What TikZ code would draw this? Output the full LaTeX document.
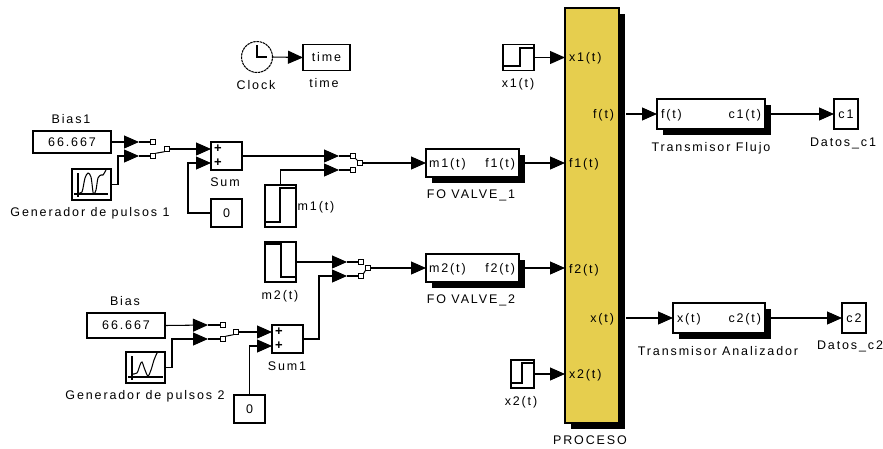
\documentclass[tikz,border=0pt]{standalone}
\usepackage{fontspec}
\setmainfont[LetterSpace=15]{Liberation Sans}
\usetikzlibrary{arrows.meta,shadows}
\definecolor{procyellow}{HTML}{E6CE4E}
\tikzset{
  blk/.style={draw=black,line width=1.05pt,fill=white,inner sep=0pt,outer sep=0pt},
  sblk/.style={blk,drop shadow={shadow xshift=6pt,shadow yshift=-6pt,fill=black,opacity=1}},
  wire/.style={line width=1.05pt,black},
  arr/.style={wire,-{Triangle[length=15pt,width=13pt]}},
  port/.style={draw=black,line width=1.05pt,fill=white,minimum size=5.5pt,inner sep=0pt,outer sep=0pt},
  bfont/.style={font=\fontsize{12.5}{14}\selectfont},
  lbl/.style={bfont,inner sep=0pt,outer sep=0pt,anchor=base,yshift=-4.5pt},
  lblw/.style={lbl,anchor=base west},
  lble/.style={lbl,anchor=base east},
  plus/.style={inner sep=0pt,outer sep=0pt,font=\fontsize{13}{13}\selectfont\bfseries},
  glyph/.style={line width=1.05pt,black},
}
\begin{document}
\begin{tikzpicture}[x=1pt,y=-1pt]
\useasboundingbox (0,0) rectangle (883,448);
% blocks
\node[blk,bfont,minimum width=78pt,minimum height=22pt] (bias1box) at (72,142) {66.667};
\node[blk,minimum width=39pt,minimum height=31pt] (gen1) at (91.5,184.5) {};
\node[blk,minimum width=31pt,minimum height=28pt] (sum) at (226.5,156) {};
\node[blk,bfont,minimum width=31pt,minimum height=28pt] (zero1) at (226.5,213) {0};
\node[blk,minimum width=31pt,minimum height=42pt] (m1) at (280.5,206) {};
\node[blk,minimum width=31pt,minimum height=40pt] (m2) at (280.5,262) {};
\node[blk,bfont,minimum width=78pt,minimum height=25pt] (biasbox) at (126,325.5) {66.667};
\node[blk,minimum width=39pt,minimum height=31pt] (gen2) at (145.5,367.5) {};
\node[blk,minimum width=31pt,minimum height=28pt] (sumb) at (287.5,339) {};
\node[blk,bfont,minimum width=31pt,minimum height=28pt] (zero2) at (249.5,409) {0};
\node[blk,circle,dash pattern=on 2.5pt off 0.7pt,minimum size=31pt] (clock) at (257,57) {};
\node[blk,bfont,minimum width=47pt,minimum height=26pt] (timebox) at (326.5,57.5) {time};
\node[blk,minimum width=31pt,minimum height=26pt] (xa) at (518.5,57.5) {};
\node[blk,minimum width=23pt,minimum height=28pt] (xb) at (522.5,374) {};
\node[sblk,minimum width=93pt,minimum height=28pt] (valve1) at (472.5,163) {};
\node[sblk,minimum width=93pt,minimum height=28pt] (valve2) at (472.5,268) {};
\node[sblk,fill=procyellow,minimum width=54pt,minimum height=415pt] (proc) at (592,215.5) {};
\node[sblk,minimum width=108pt,minimum height=30pt] (tf) at (711,114) {};
\node[sblk,minimum width=92pt,minimum height=30pt] (ta) at (719,318) {};
\node[blk,bfont,minimum width=24pt,minimum height=30pt] (ca) at (846,114) {c1};
\node[blk,bfont,minimum width=24pt,minimum height=30pt] (cb) at (854,318) {c2};
% block glyphs
\draw[glyph] (257,45) -- (257,57) -- (267,57);
\draw[glyph] (265,222) -- (280,222) -- (280,188) -- (296,188);
\draw[glyph] (265,244) -- (281,244) -- (281,277) -- (296,277);
\draw[glyph] (503,66) -- (520,66) -- (520,48) -- (534,48);
\draw[glyph] (511,383) -- (522,383) -- (522,363) -- (534,363);
\draw[glyph] (78,173) -- (78,197);
\draw[glyph] (74,194) -- (108,194);
\draw[glyph] plot[smooth,tension=0.5] coordinates {(78,193) (82,192) (85,178) (88,173) (91,177) (93,192) (94,194) (96,190) (98,178) (101,175) (103,175) (106,170)};
\draw[glyph] (132,356) -- (132,380);
\draw[glyph] (128,377) -- (163,377);
\draw[glyph] plot[smooth,tension=0.5] coordinates {(132,374) (137,373) (140,365) (142,362) (145,370) (148,376) (151,370) (154,360) (157,353) (158,352)};
% labels
\node[lbl] (lbias1) at (71,119) {Bias1};
\node[lbl] (lgen1) at (90,212) {Generador de pulsos 1};
\node[lbl] (lsum) at (225,182) {Sum};
\node[lbl] (lclock) at (256,85) {Clock};
\node[lbl] (ltime) at (324,83) {time};
\node[lbl] (lm1) at (316,206) {m1(t)};
\node[lbl] (lm2) at (280,295) {m2(t)};
\node[lbl] (lbias) at (125,301) {Bias};
\node[lbl] (lgen2) at (145,395) {Generador de pulsos 2};
\node[lbl] (lsumb) at (287,366) {Sum1};
\node[lbl] (lxa) at (518,83) {x1(t)};
\node[lbl] (lxb) at (521,401) {x2(t)};
\node[lbl] (lv1) at (471,194) {FO VALVE\_1};
\node[lbl] (lv2) at (471,299) {FO VALVE\_2};
\node[lbl] (lproc) at (590,440) {PROCESO};
\node[lbl] (ltf) at (711,147) {Transmisor Flujo};
\node[lbl] (lta) at (718,351) {Transmisor Analizador};
\node[lbl] (lca) at (843,142) {Datos\_c1};
\node[lbl] (lcb) at (850,345) {Datos\_c2};
% port texts
\node[lblw] (t1) at (429,163) {m1(t)};
\node[lble] (t2) at (515,163) {f1(t)};
\node[lblw] (t3) at (429,268) {m2(t)};
\node[lble] (t4) at (515,268) {f2(t)};
\node[lblw] (t5) at (569,57) {x1(t)};
\node[lblw] (t6) at (569,163) {f1(t)};
\node[lblw] (t7) at (569,269) {f2(t)};
\node[lblw] (t8) at (569,374) {x2(t)};
\node[lble] (t9) at (614,114) {f(t)};
\node[lble] (t10) at (614,318) {x(t)};
\node[lblw] (t11) at (661,114) {f(t)};
\node[lble] (t12) at (761,114) {c1(t)};
\node[lblw] (t13) at (677,318) {x(t)};
\node[lble] (t14) at (761,318) {c2(t)};
\node[plus] (p1a) at (218,149) {+};
\node[plus] (p1b) at (218,163) {+};
\node[plus] (p2a) at (279,332) {+};
\node[plus] (p2b) at (279,346) {+};
% switch ports
\node[port] (s1a) at (153,142) {};
\node[port] (s1b) at (153,156) {};
\node[port] (s1o) at (167,149) {};
\node[port] (s2a) at (353,156) {};
\node[port] (s2b) at (353,170) {};
\node[port] (s2o) at (360,163) {};
\node[port] (s3a) at (361,262) {};
\node[port] (s3b) at (361,276) {};
\node[port] (s3o) at (368,268) {};
\node[port] (s4a) at (223,325) {};
\node[port] (s4b) at (223,339) {};
\node[port] (s4o) at (236,332) {};
% arrow tips
\coordinate (a1) at (139,142); \coordinate (a2) at (139,156);
\coordinate (a3) at (211,149); \coordinate (a4) at (211,163);
\coordinate (a5) at (339,156); \coordinate (a6) at (339,170);
\coordinate (a7) at (347,262); \coordinate (a8) at (347,276);
\coordinate (a9) at (208,325); \coordinate (a10) at (208,339);
\coordinate (a11) at (272,332); \coordinate (a12) at (272,346);
% wires: first switch
\draw[arr] (bias1box.east) -- (a1);
\draw[wire] (a1) -- (s1a.west);
\draw[arr] (gen1.east) -- ++(7,0) |- (a2);
\draw[wire] (a2) -- (s1b.west);
\draw[wire] (s1b.north east) -- (s1o.south west);
\draw[arr] (s1o.east) -- (a3);
\draw[arr] (zero1.west) -- ++(-23,0) |- (a4);
% second switch
\draw[arr] (sum.east) -- (a5);
\draw[wire] (a5) -- (s2a.west);
\draw[arr] (m1.north) |- (a6);
\draw[wire] (a6) -- (s2b.west);
\draw[wire] (s2a.south east) -- (s2o.north west);
\draw[arr] (s2o.east) -- (valve1.west);
\draw[arr] ([xshift=6pt]valve1.east) -- (valve1.east -| proc.west);
% third switch
\draw[arr] (m2.east) -- (a7);
\draw[wire] (a7) -- (s3a.west);
\draw[arr] (sumb.east) -- ++(16,0) |- (a8);
\draw[wire] (a8) -- (s3b.west);
\draw[wire] (s3b.north east) -- (s3o.south west);
\draw[arr] (s3o.east) -- (valve2.west);
\draw[arr] ([xshift=6pt]valve2.east) -- (valve2.east -| proc.west);
% fourth switch
\draw[arr] (biasbox.east) -- (a9);
\draw[wire] (a9) -- (s4a.west);
\draw[arr] (gen2.east) -- ++(7,0) |- (a10);
\draw[wire] (a10) -- (s4b.west);
\draw[wire] (s4b.north east) -- (s4o.south west);
\draw[arr] (s4o.east) -- (a11);
\draw[arr] (zero2.north) |- (a12);
% other connectors
\draw[arr] (clock.east) -- (timebox.west);
\draw[arr] (xa.east) -- (xa.east -| proc.west);
\draw[arr] (xb.east) -- (xb.east -| proc.west);
\coordinate (po1) at (626,114);
\coordinate (po2) at (626,318);
\draw[arr] (po1) -- (tf.west);
\draw[arr] (po2) -- (ta.west);
\draw[arr] ([xshift=6pt]tf.east) -- (ca.west);
\draw[arr] ([xshift=6pt]ta.east) -- (cb.west);
\end{tikzpicture}
\end{document}
